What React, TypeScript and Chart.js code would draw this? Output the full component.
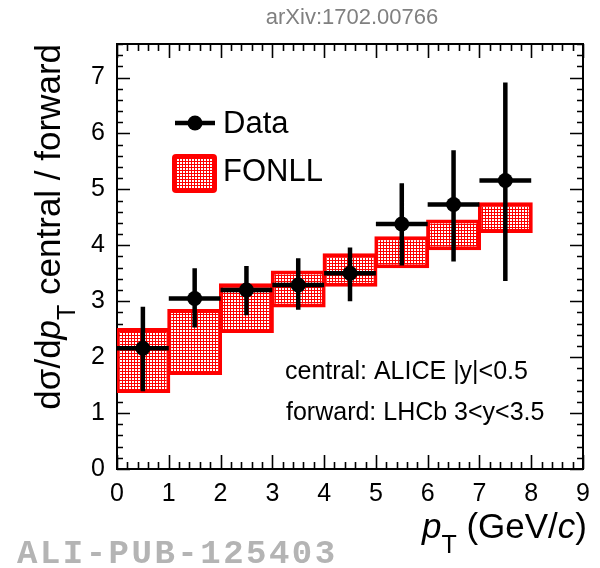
import { useEffect, useRef } from "react";
import { Chart, registerables } from "chart.js";

Chart.register(...registerables);

// ---- data ----
const binCenters = [0.5, 1.5, 2.5, 3.5, 4.5, 5.5, 6.5, 7.5];
const binHalfWidth = 0.5;
const dataValues = [2.16, 3.05, 3.2, 3.29, 3.5, 4.38, 4.73, 5.16];
const dataErrLow = [1.39, 2.53, 2.75, 2.85, 3.0, 3.64, 3.71, 3.36];
const dataErrHigh = [2.9, 3.59, 3.63, 3.77, 3.96, 5.11, 5.7, 6.91];
const fonllLow = [1.36, 1.68, 2.43, 2.89, 3.26, 3.59, 3.91, 4.22];
const fonllHigh = [2.52, 2.86, 3.32, 3.55, 3.86, 4.16, 4.46, 4.77];
const xTickValues = [0, 1, 2, 3, 4, 5, 6, 7, 8, 9];
const yTickValues = [0, 1, 2, 3, 4, 5, 6, 7];
const xRange = [0, 9];
const yRange = [0, 7.6];
const minorDivisions = 5;

const titleText = "arXiv:1702.00766";
const watermarkText = "ALI-PUB-125403";
const legendLabels = ["Data", "FONLL"];
const infoLines = ["central: ALICE |y|<0.5", "forward: LHCb 3<y<3.5"];

const FONT = "'Liberation Sans', Arial, Helvetica, sans-serif";
const RED = "#ff0000";

type Seg = { text: string; italic?: boolean; sub?: boolean };

function makePattern(): CanvasPattern | string {
  const c = document.createElement("canvas");
  c.width = 3;
  c.height = 3;
  const g = c.getContext("2d");
  if (!g) return RED;
  g.fillStyle = RED;
  g.fillRect(0, 0, 3, 3);
  g.fillStyle = "#ffffff";
  g.fillRect(0, 0, 2, 2);
  const p = g.createPattern(c, "repeat");
  return p || RED;
}

function drawRich(
  ctx: CanvasRenderingContext2D,
  segs: Seg[],
  x: number,
  y: number,
  size: number,
  align: "left" | "right"
) {
  const subSize = Math.round(size * 0.72);
  const fontFor = (s: Seg) =>
    `${s.italic ? "italic " : ""}${s.sub ? subSize : size}px ${FONT}`;
  const widths = segs.map((s) => {
    ctx.font = fontFor(s);
    return ctx.measureText(s.text).width;
  });
  const total = widths.reduce((a, b) => a + b, 0);
  let cx = align === "right" ? x - total : x;
  ctx.textAlign = "left";
  ctx.textBaseline = "alphabetic";
  segs.forEach((s, i) => {
    ctx.font = fontFor(s);
    ctx.fillText(s.text, cx, y + (s.sub ? size * 0.42 : 0));
    cx += widths[i];
  });
}

export default function App() {
  const ref = useRef<HTMLCanvasElement | null>(null);

  useEffect(() => {
    if (!ref.current) return;
    const pattern = makePattern();

    const framePlugin = {
      id: "rootFrame",
      beforeDatasetsDraw(chart: any) {
        const { ctx, chartArea: a, scales } = chart;
        const xs = scales.x;
        const ys = scales.y;
        ctx.save();
        ctx.strokeStyle = "#000";
        ctx.lineWidth = 2;
        ctx.strokeRect(a.left, a.top, a.right - a.left, a.bottom - a.top);
        ctx.lineWidth = 1.6;
        ctx.beginPath();
        const xStep = 1 / minorDivisions;
        for (let i = 0; xRange[0] + i * xStep <= xRange[1] + 1e-9; i++) {
          const v = xRange[0] + i * xStep;
          const px = Math.round(xs.getPixelForValue(v)) + 0.5;
          const len = i % minorDivisions === 0 ? 14 : 7;
          ctx.moveTo(px, a.bottom);
          ctx.lineTo(px, a.bottom - len);
          ctx.moveTo(px, a.top);
          ctx.lineTo(px, a.top + len);
        }
        const yStep = 1 / minorDivisions;
        for (let i = 0; yRange[0] + i * yStep <= yRange[1] + 1e-9; i++) {
          const v = yRange[0] + i * yStep;
          const py = Math.round(ys.getPixelForValue(v)) + 0.5;
          const len = i % minorDivisions === 0 ? 13 : 6;
          ctx.moveTo(a.left, py);
          ctx.lineTo(a.left + len, py);
          ctx.moveTo(a.right, py);
          ctx.lineTo(a.right - len, py);
        }
        ctx.stroke();
        ctx.restore();
      },
      afterDatasetDraw(chart: any, args: any) {
        if (args.index !== 0) return;
        const { ctx, scales } = chart;
        const xs = scales.x;
        const ys = scales.y;
        ctx.save();
        ctx.strokeStyle = "#000";
        ctx.lineWidth = 4.5;
        ctx.beginPath();
        binCenters.forEach((x, i) => {
          const px = xs.getPixelForValue(x);
          const py = ys.getPixelForValue(dataValues[i]);
          ctx.moveTo(px, ys.getPixelForValue(dataErrLow[i]));
          ctx.lineTo(px, ys.getPixelForValue(dataErrHigh[i]));
          ctx.moveTo(xs.getPixelForValue(x - binHalfWidth), py);
          ctx.lineTo(xs.getPixelForValue(x + binHalfWidth), py);
        });
        ctx.stroke();
        ctx.restore();
      },
      afterDraw(chart: any) {
        const { ctx } = chart;
        ctx.save();
        // title
        ctx.fillStyle = "#808080";
        ctx.font = `22px ${FONT}`;
        ctx.textAlign = "center";
        ctx.textBaseline = "middle";
        ctx.fillText(titleText, 352, 18);

        // watermark
        ctx.fillStyle = "#b4b4b4";
        ctx.font = `bold 34px 'Liberation Mono', 'DejaVu Sans Mono', monospace`;
        ctx.textAlign = "left";
        ctx.textBaseline = "alphabetic";
        (ctx as any).letterSpacing = "2.5px";
        ctx.fillText(watermarkText, 17, 563);
        (ctx as any).letterSpacing = "0px";

        // legend
        ctx.fillStyle = "#000";
        ctx.strokeStyle = "#000";
        ctx.lineWidth = 4.5;
        ctx.beginPath();
        ctx.moveTo(175, 123);
        ctx.lineTo(215, 123);
        ctx.stroke();
        ctx.beginPath();
        ctx.arc(195, 123, 7.5, 0, Math.PI * 2);
        ctx.fill();
        ctx.fillStyle = RED;
        ctx.beginPath();
        (ctx as any).roundRect(172, 154, 45, 39, 4);
        ctx.fill();
        ctx.fillStyle = pattern as any;
        ctx.fillRect(176, 158, 37, 31);
        ctx.fillStyle = "#000";
        ctx.font = `31px ${FONT}`;
        ctx.textBaseline = "middle";
        ctx.fillText(legendLabels[0], 223, 124);
        ctx.fillText(legendLabels[1], 223, 172);

        // info text
        ctx.font = `25px ${FONT}`;
        ctx.fillText(infoLines[0], 285, 372);
        ctx.fillText(infoLines[1], 286, 413);

        // axis titles
        ctx.fillStyle = "#000";
        drawRich(
          ctx,
          [
            { text: "p", italic: true },
            { text: "T", sub: true },
            { text: " (GeV/" },
            { text: "c", italic: true },
            { text: ")" },
          ],
          587,
          538,
          35,
          "right"
        );
        ctx.save();
        ctx.translate(60, 44);
        ctx.rotate(-Math.PI / 2);
        drawRich(
          ctx,
          [
            { text: "dσ/d" },
            { text: "p", italic: true },
            { text: "T", sub: true },
            { text: " central / forward" },
          ],
          0,
          0,
          35,
          "right"
        );
        ctx.restore();
        ctx.restore();
      },
    };

    const chart = new Chart(ref.current, {
      type: "bar",
      data: {
        datasets: [
          {
            type: "scatter",
            label: legendLabels[0],
            data: binCenters.map((x, i) => ({ x, y: dataValues[i] })),
            backgroundColor: "#000",
            borderColor: "#000",
            pointRadius: 7.5,
            pointHoverRadius: 7.5,
            borderWidth: 0,
            showLine: false,
            order: 0,
          } as any,
          {
            type: "bar",
            label: legendLabels[1],
            data: binCenters.map((x, i) => ({ x, y: [fonllLow[i], fonllHigh[i]] })),
            backgroundColor: pattern as any,
            borderColor: RED,
            borderWidth: 4,
            borderSkipped: false,
            barPercentage: 1.06,
            categoryPercentage: 1,
            order: 1,
          } as any,
        ],
      },
      options: {
        responsive: false,
        animation: false,
        events: [],
        layout: { padding: { left: 0, top: 44, right: 17, bottom: 0 } },
        plugins: {
          legend: { display: false },
          tooltip: { enabled: false },
          title: { display: false },
        },
        scales: {
          x: {
            type: "linear",
            min: xRange[0],
            max: xRange[1],
            offset: false,
            grid: { display: false },
            border: { display: false },
            ticks: {
              color: "#000",
              font: { family: FONT, size: 25 },
              padding: 2,
              maxRotation: 0,
              autoSkip: false,
            },
            afterBuildTicks: (s: any) => {
              s.ticks = xTickValues.map((v) => ({ value: v }));
            },
            afterFit: (s: any) => {
              s.height = 99;
            },
          },
          y: {
            type: "linear",
            min: yRange[0],
            max: yRange[1],
            grid: { display: false },
            border: { display: false },
            ticks: {
              color: "#000",
              font: { family: FONT, size: 25 },
              padding: 4,
              autoSkip: false,
            },
            afterBuildTicks: (s: any) => {
              s.ticks = yTickValues.map((v) => ({ value: v }));
            },
            afterFit: (s: any) => {
              s.width = 117;
            },
          },
        } as any,
      },
      plugins: [framePlugin],
    });

    return () => chart.destroy();
  }, []);

  return (
    <div style={{ position: "fixed", left: 0, top: 0, width: 600, height: 568, background: "#fff" }}>
      <canvas ref={ref} width={600} height={568} style={{ display: "block" }} />
    </div>
  );
}
